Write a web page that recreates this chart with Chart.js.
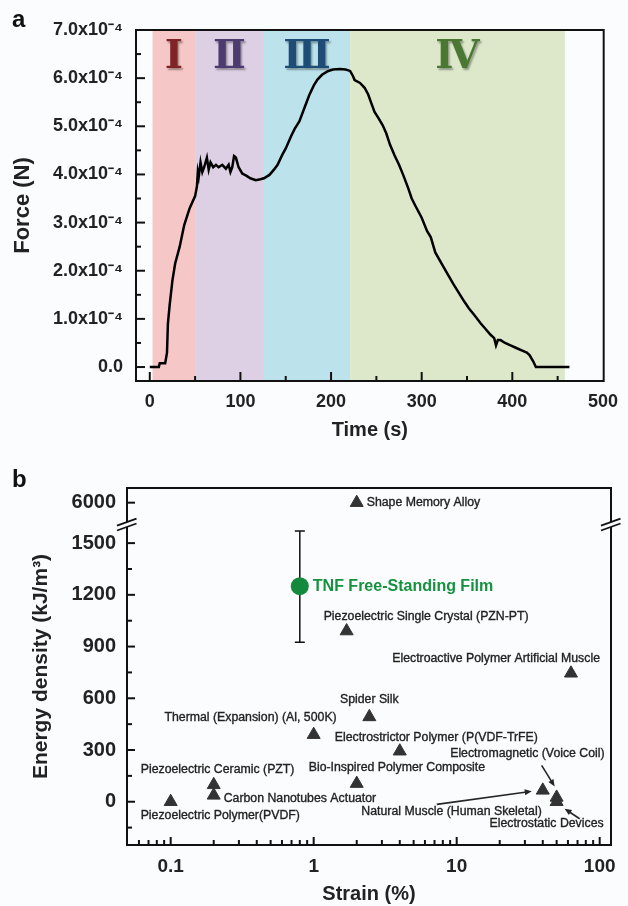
<!DOCTYPE html>
<html>
<head>
<meta charset="utf-8">
<script src="https://cdn.jsdelivr.net/npm/chart.js@4.4.1/dist/chart.umd.min.js"></script>
<style>
  body { margin: 0; background: #fbfcfd; }
  #wrap { position: relative; width: 628px; height: 906px; }
  .panel { position: absolute; left: 0; width: 628px; }
  #boxA { top: 0; height: 450px; }
  #boxB { top: 450px; height: 456px; }
  .tag { position: absolute; left: 12px; font: bold 24px "Liberation Sans", Arial, sans-serif; line-height: 24px; color: #111; }
</style>
</head>
<body>
<div id="wrap">
  <div class="panel" id="boxA"><canvas id="forceChart" width="628" height="450"></canvas></div>
  <div class="panel" id="boxB"><canvas id="energyChart" width="628" height="456"></canvas></div>
  <div class="tag" style="top:7px">a</div>
  <div class="tag" style="top:467px">b</div>
</div>
<script>
// ---- panel a: force vs time ----
const timeS = [0, 10, 11, 17, 19, 20, 22, 25, 28, 33, 38, 44, 50, 52, 53, 54, 56, 58, 60, 63,
  65, 67, 70, 73, 76, 80, 84, 87, 89, 91, 93, 95, 98, 102, 106, 111, 117, 122, 126, 132,
  137, 141, 146, 150, 156, 160, 165, 171, 176, 181, 185, 190, 196, 202, 210, 216, 221, 224, 226, 232,
  237, 241, 245, 248, 252, 257, 261, 265, 270, 275, 280, 285, 289, 293, 300, 306, 310, 315, 322, 328,
  335, 341, 347, 352, 358, 365, 370, 376, 380, 382, 384, 387, 392, 398, 405, 411, 416, 419, 423, 426,
  440, 463];
// force in units of 1e-4 N
const forceE4 = [0, 0, 0.08, 0.08, 0.3, 0.9, 1.3, 1.8, 2.15, 2.5, 2.95, 3.3, 3.55, 3.75, 4.05, 3.95, 4.25, 4.05, 4.15, 4.35,
  4.1, 4.25, 4.15, 4.2, 4.15, 4.2, 4.12, 4.2, 4.05, 4.15, 4.38, 4.35, 4.15, 4.02, 3.98, 3.92, 3.88, 3.9, 3.92, 3.99,
  4.1, 4.2, 4.4, 4.54, 4.8, 4.95, 5.1, 5.4, 5.65, 5.85, 5.97, 6.07, 6.14, 6.18, 6.19, 6.18, 6.15, 6.05, 5.96, 5.9,
  5.8, 5.66, 5.45, 5.3, 5.18, 5.02, 4.85, 4.62, 4.4, 4.2, 3.97, 3.72, 3.5, 3.35, 3.1, 2.82, 2.7, 2.38, 2.15, 1.95,
  1.72, 1.54, 1.36, 1.22, 1.08, 0.91, 0.8, 0.67, 0.6, 0.45, 0.56, 0.56, 0.5, 0.45, 0.39, 0.34, 0.3, 0.25, 0.12, 0,
  0, 0];
const timeTicks = [0, 100, 200, 300, 400, 500];
const forceTicks = [0, 1, 2, 3, 4, 5, 6, 7];
const stageNames = ['Ⅰ', 'Ⅱ', 'Ⅲ', 'Ⅳ'];
const stageFrom = [3, 50, 126, 221];
const stageTo = [50, 126, 221, 458];

// ---- panel b: energy density vs strain ----
const materials = ['Shape Memory Alloy', 'Piezoelectric Single Crystal (PZN-PT)', 'Electroactive Polymer Artificial Muscle',
  'Spider Silk', 'Thermal (Expansion) (Al, 500K)', 'Electrostrictor Polymer (P(VDF-TrFE)', 'Bio-Inspired Polymer Composite',
  'Piezoelectric Ceramic (PZT)', 'Carbon Nanotubes Actuator', 'Piezoelectric Polymer(PVDF)',
  'Electromagnetic (Voice Coil)', 'Natural Muscle (Human Skeletal)', 'Electrostatic Devices'];
const strainPct = [2, 1.7, 63, 2.45, 1, 4, 2, 0.2, 0.2, 0.1, 50, 40, 50];
const energyKJ = [6000, 990, 745, 492, 389, 293, 105, 98, 37, 0, 25, 66, 0];
const tnfName = 'TNF Free-Standing Film';
const tnfStrain = [0.8];
const tnfEnergy = [1250];
const tnfLow = [925];
const tnfHigh = [1570];
const strainTicks = [0.1, 1, 10, 100];
const energyTicks = [0, 300, 600, 900, 1200, 1500];
const energyTopTicks = [6000];

// styling
const FONT = '"Liberation Sans", Arial, sans-serif';
const BG = '#fbfcfd';
const stageFill = ['#f6c7c7', '#ddd0e5', '#bce2ec', '#dde8cb'];
const stageInk = ['#7e2426', '#4d3a6f', '#1d4c77', '#4a7833'];
// label placement relative to each marker: dx, dy, align
const notePlace = {
  'Shape Memory Alloy': [10, 0, 'left'],
  'Piezoelectric Single Crystal (PZN-PT)': [-23, -14, 'left'],
  'Electroactive Polymer Artificial Muscle': [29, -15, 'right'],
  'Spider Silk': [0, -17, 'center'],
  'Thermal (Expansion) (Al, 500K)': [23, -17, 'right'],
  'Electrostrictor Polymer (P(VDF-TrFE)': [-65, -14, 'left'],
  'Bio-Inspired Polymer Composite': [-48, -16, 'left'],
  'Piezoelectric Ceramic (PZT)': [-73, -15, 'left'],
  'Carbon Nanotubes Actuator': [10, 3, 'left'],
  'Piezoelectric Polymer(PVDF)': [-30, 14, 'left'],
  'Electromagnetic (Voice Coil)': [48, -44, 'right'],
  'Natural Muscle (Human Skeletal)': [-1, 21, 'right'],
  'Electrostatic Devices': [47, 22, 'right']
};
const noteArrow = {
  'Electromagnetic (Voice Coil)': [-15, -32, -2, -11],
  'Natural Muscle (Human Skeletal)': [-106, 14, -11, 1],
  'Electrostatic Devices': [23, 17, 8, 7]
};

Chart.defaults.font.family = FONT;
Chart.defaults.color = '#222';

function tickFont(size) {
  return { family: FONT, size: size, weight: 'bold' };
}

function frameAndTicks(id, tickSets, breakScale) {
  return {
    id: id,
    afterDraw(chart) {
      const { ctx, chartArea: a } = chart;
      ctx.save();
      ctx.strokeStyle = '#111';
      ctx.lineWidth = 2;
      ctx.strokeRect(a.left, a.top, a.right - a.left, a.bottom - a.top);
      tickSets.forEach(set => {
        const s = chart.scales[set.scale];
        set.values.forEach(v => {
          const p = s.getPixelForValue(v);
          if (s.isHorizontal()) {
            if (p < a.left + 2 || p > a.right - 2) return;
            ctx.beginPath();
            ctx.moveTo(p, a.bottom);
            ctx.lineTo(p, a.bottom - set.len);
          } else {
            if (p < s.top - 0.5 || p > s.bottom + 0.5) return;
            ctx.beginPath();
            ctx.moveTo(a.left, p);
            ctx.lineTo(a.left + set.len, p);
          }
          ctx.stroke();
        });
      });
      if (breakScale) {
        const yb = chart.scales[breakScale].top;
        [a.left, a.right].forEach(x => {
          const slope = -0.36, half = 2.4, x0 = x - 10, x1 = x + 9.5;
          const f = (X, o) => yb + o + slope * (X - x);
          ctx.fillStyle = BG;
          ctx.beginPath();
          ctx.moveTo(x0, f(x0, -half));
          ctx.lineTo(x1, f(x1, -half));
          ctx.lineTo(x1, f(x1, half));
          ctx.lineTo(x0, f(x0, half));
          ctx.closePath();
          ctx.fill();
          ctx.lineWidth = 1.8;
          [-half, half].forEach(o => {
            ctx.beginPath();
            ctx.moveTo(x0, f(x0, o));
            ctx.lineTo(x1, f(x1, o));
            ctx.stroke();
          });
        });
      }
      ctx.restore();
    }
  };
}

const stageBands = {
  id: 'stageBands',
  beforeDatasetsDraw(chart) {
    const { ctx, chartArea: a, scales: { x } } = chart;
    ctx.save();
    stageNames.forEach((name, i) => {
      const x0 = x.getPixelForValue(stageFrom[i]);
      const x1 = x.getPixelForValue(stageTo[i]);
      ctx.fillStyle = stageFill[i];
      ctx.fillRect(x0, a.top, x1 - x0, a.bottom - a.top);
    });
    ctx.font = 'bold 39px "DejaVu Serif", serif';
    ctx.textAlign = 'center';
    ctx.textBaseline = 'alphabetic';
    ctx.shadowColor = 'rgba(0,0,0,0.35)';
    ctx.shadowOffsetX = 1.5;
    ctx.shadowOffsetY = 1.5;
    ctx.shadowBlur = 2;
    stageNames.forEach((name, i) => {
      const xm = x.getPixelForValue((stageFrom[i] + stageTo[i]) / 2);
      ctx.fillStyle = stageInk[i];
      ctx.fillText(name, xm, a.top + 38);
    });
    ctx.restore();
  }
};

const forceMinor = forceTicks.slice(0, -1).map(v => v + 0.5);
const timeMinor = timeTicks.slice(0, -1).map(v => v + 50);

new Chart(document.getElementById('forceChart'), {
  type: 'scatter',
  data: {
    datasets: [{
      data: timeS.map((t, i) => ({ x: t, y: forceE4[i] })),
      showLine: true,
      borderColor: '#000',
      borderWidth: 2.5,
      pointRadius: 0,
      tension: 0
    }]
  },
  options: {
    responsive: false,
    animation: false,
    layout: { padding: { left: 0, right: 16, top: 30, bottom: 0 } },
    plugins: { legend: { display: false }, tooltip: { enabled: false } },
    scales: {
      x: {
        type: 'linear', min: -15.2, max: 500.8,
        grid: { display: false, drawTicks: false },
        border: { display: false },
        afterBuildTicks: s => { s.ticks = timeTicks.map(v => ({ value: v })); },
        afterFit: s => { s.height = 69; },
        ticks: { font: tickFont(18), color: '#222', padding: 10, autoSkip: false, maxRotation: 0, callback: v => String(v) },
        title: { display: true, text: 'Time (s)', font: tickFont(20), color: '#222', padding: { top: 0, bottom: 8 } }
      },
      y: {
        type: 'linear', min: -0.29, max: 7,
        grid: { display: false, drawTicks: false },
        border: { display: false },
        afterBuildTicks: s => { s.ticks = forceTicks.map(v => ({ value: v })); },
        afterFit: s => { s.width = 136; },
        ticks: { font: tickFont(18), color: '#222', padding: 13, autoSkip: false,
          callback: v => v === 0 ? '0.0' : v.toFixed(1) + 'x10⁻⁴' },
        title: { display: true, text: 'Force (N)', font: tickFont(22), color: '#222', padding: { top: 10, bottom: 0 } }
      }
    }
  },
  plugins: [stageBands, frameAndTicks('frameA', [
    { scale: 'x', values: timeTicks, len: 9 },
    { scale: 'x', values: timeMinor, len: 5 },
    { scale: 'y', values: forceTicks, len: 9 },
    { scale: 'y', values: forceMinor, len: 5 }
  ])]
});

// ---- panel b ----
const energyMinor = [-150].concat(energyTicks.map(v => v + 150));
const strainMinor = [];
[0.01, 0.1, 1, 10].forEach(d => { for (let k = 2; k <= 9; k++) strainMinor.push(+(k * d).toPrecision(2)); });
const onTop = energyKJ.map(v => v >= 2000);

const energyNotes = {
  id: 'energyNotes',
  beforeDatasetsDraw(chart) {
    const { ctx, scales } = chart;
    const x = scales.x.getPixelForValue(tnfStrain[0]);
    const y0 = scales.y.getPixelForValue(tnfLow[0]);
    const y1 = scales.y.getPixelForValue(tnfHigh[0]);
    ctx.save();
    ctx.strokeStyle = '#111';
    ctx.lineWidth = 1.5;
    ctx.beginPath();
    ctx.moveTo(x, y0); ctx.lineTo(x, y1);
    ctx.moveTo(x - 5, y0); ctx.lineTo(x + 5, y0);
    ctx.moveTo(x - 5, y1); ctx.lineTo(x + 5, y1);
    ctx.stroke();
    ctx.restore();
  },
  afterDatasetsDraw(chart) {
    const { ctx, scales, chartArea: a } = chart;
    ctx.save();
    ctx.textBaseline = 'middle';
    ctx.font = '12.3px ' + FONT;
    materials.forEach((name, i) => {
      const px = scales.x.getPixelForValue(strainPct[i]);
      const py = scales[onTop[i] ? 'yTop' : 'y'].getPixelForValue(energyKJ[i]);
      const [dx, dy, align] = notePlace[name];
      ctx.fillStyle = '#222';
      ctx.strokeStyle = '#222';
      ctx.lineWidth = 0.35;
      ctx.textAlign = align;
      ctx.fillText(name, px + dx, py + dy);
      ctx.strokeText(name, px + dx, py + dy);
      const arr = noteArrow[name];
      if (arr) {
        const ax = px + arr[0], ay = py + arr[1], bx = px + arr[2], by = py + arr[3];
        const ang = Math.atan2(by - ay, bx - ax);
        ctx.strokeStyle = '#262626';
        ctx.lineWidth = 1.6;
        ctx.beginPath();
        ctx.moveTo(ax, ay);
        ctx.lineTo(bx - 5 * Math.cos(ang), by - 5 * Math.sin(ang));
        ctx.stroke();
        ctx.beginPath();
        ctx.moveTo(bx, by);
        ctx.lineTo(bx - 7 * Math.cos(ang) + 3 * Math.sin(ang), by - 7 * Math.sin(ang) - 3 * Math.cos(ang));
        ctx.lineTo(bx - 7 * Math.cos(ang) - 3 * Math.sin(ang), by - 7 * Math.sin(ang) + 3 * Math.cos(ang));
        ctx.closePath();
        ctx.fillStyle = '#262626';
        ctx.fill();
      }
    });
    // TNF label
    const tx = scales.x.getPixelForValue(tnfStrain[0]);
    const ty = scales.y.getPixelForValue(tnfEnergy[0]);
    ctx.textAlign = 'left';
    ctx.font = 'bold 16px ' + FONT;
    ctx.fillStyle = '#15913f';
    ctx.fillText(tnfName, tx + 13, ty);
    // y axis title spanning both stacked axes
    ctx.save();
    ctx.translate(41, (a.top + a.bottom) / 2);
    ctx.rotate(-Math.PI / 2);
    ctx.textAlign = 'center';
    ctx.font = 'bold 21px ' + FONT;
    ctx.fillStyle = '#222';
    ctx.fillText('Energy density (kJ/m³)', 0, 0);
    ctx.restore();
    ctx.restore();
  }
};

const yCommon = {
  type: 'linear', position: 'left', stack: 'energy',
  grid: { display: false, drawTicks: false },
  border: { display: false },
  afterFit: s => { s.width = 127; },
  ticks: { font: tickFont(20), color: '#222', padding: 11, autoSkip: false, callback: v => String(v) }
};

new Chart(document.getElementById('energyChart'), {
  type: 'scatter',
  data: {
    datasets: [
      {
        data: materials.map((m, i) => ({ x: strainPct[i], y: energyKJ[i] })).filter((p, i) => !onTop[i]),
        yAxisID: 'y', pointStyle: 'triangle', pointRadius: 7.5,
        backgroundColor: '#333', borderColor: '#333', borderWidth: 1
      },
      {
        data: materials.map((m, i) => ({ x: strainPct[i], y: energyKJ[i] })).filter((p, i) => onTop[i]),
        yAxisID: 'yTop', pointStyle: 'triangle', pointRadius: 7.5,
        backgroundColor: '#333', borderColor: '#333', borderWidth: 1
      },
      {
        data: tnfStrain.map((s, i) => ({ x: s, y: tnfEnergy[i] })),
        yAxisID: 'y', pointStyle: 'circle', pointRadius: 9,
        backgroundColor: '#13893c', borderColor: '#13893c', borderWidth: 0
      }
    ]
  },
  options: {
    responsive: false,
    animation: false,
    layout: { padding: { left: 0, right: 17, top: 38, bottom: 0 } },
    plugins: { legend: { display: false }, tooltip: { enabled: false } },
    scales: {
      x: {
        type: 'logarithmic', min: 0.0495, max: 120,
        grid: { display: false, drawTicks: false },
        border: { display: false },
        afterBuildTicks: s => { s.ticks = strainTicks.map(v => ({ value: v })); },
        afterFit: s => { s.height = 61; },
        ticks: { font: tickFont(19), color: '#222', padding: 10, autoSkip: false, maxRotation: 0, callback: v => String(v) },
        title: { display: true, text: 'Strain (%)', font: tickFont(20), color: '#222', padding: { top: 0, bottom: 0 } }
      },
      y: Object.assign({}, yCommon, {
        min: -251, max: 1608, stackWeight: 320.5,
        afterBuildTicks: s => { s.ticks = energyTicks.map(v => ({ value: v })); }
      }),
      yTop: Object.assign({}, yCommon, {
        min: 5875, max: 6084, stackWeight: 36.5,
        afterBuildTicks: s => { s.ticks = energyTopTicks.map(v => ({ value: v })); }
      })
    }
  },
  plugins: [energyNotes, frameAndTicks('frameB', [
    { scale: 'x', values: strainTicks, len: 8 },
    { scale: 'x', values: strainMinor, len: 5 },
    { scale: 'y', values: energyTicks, len: 8 },
    { scale: 'y', values: energyMinor, len: 5 },
    { scale: 'yTop', values: energyTopTicks, len: 8 }
  ], 'y')]
});
</script>
</body>
</html>
